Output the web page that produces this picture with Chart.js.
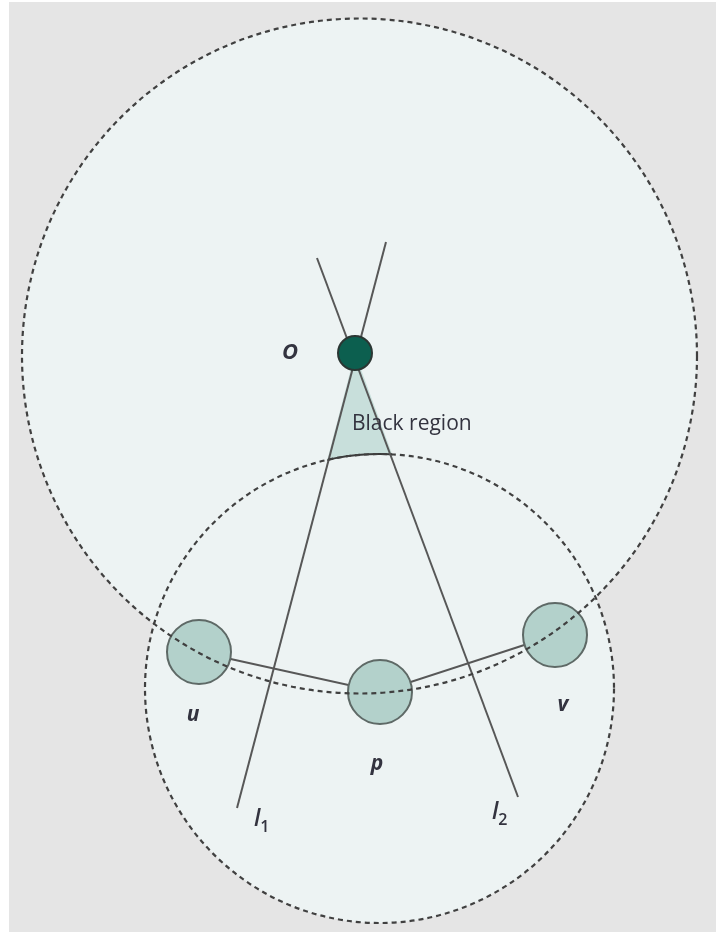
<!DOCTYPE html>
<html>
<head>
<meta charset="utf-8">
<script src="https://cdn.jsdelivr.net/npm/chart.js@4.4.1/dist/chart.umd.min.js"></script>
<style>
  html, body { margin: 0; padding: 0; background: #ffffff; }
  #grafico { display: block; }
</style>
</head>
<body>
<canvas id="grafico" width="716" height="932"></canvas>
<script>
// Pontos do diagrama (coordenadas no plano do desenho)
const nodeNames = ['u', 'p', 'v'];
const nodeX = [199, 380, 555];
const nodeY = [652, 692, 635];

const originName = 'O';
const originX = 355;
const originY = 353;

// Retas l1 e l2 (ponta de cima -> ponta de baixo)
const lineNames = ['l1', 'l2'];
const lineTopX = [386, 317];
const lineTopY = [242, 258];
const lineBottomX = [237, 518];
const lineBottomY = [808, 797];

// Círculos tracejados (centro e raio)
const circleX = [359.5, 379.5];
const circleY = [356, 688.5];
const circleR = [337.5, 234.5];

// Rótulos
const labelTexts = ['O', 'u', 'p', 'v', 'l', 'l', 'Black region'];
const labelSubs = ['', '', '', '', '1', '2', ''];
const labelX = [290, 193, 377, 563, 260, 498, 352];
const labelY = [353, 715, 764, 705, 822, 815, 424];

const corLinha = '#575757';

const fundoPlugin = {
    id: 'fundo',
    beforeDraw(chart) {
        const ctx = chart.ctx;
        ctx.save();
        ctx.fillStyle = '#ffffff';
        ctx.fillRect(0, 0, chart.width, chart.height);
        ctx.fillStyle = '#e5e5e5';
        ctx.fillRect(9, 2, chart.width - 9, chart.height - 2);
        ctx.restore();
    },
    beforeDatasetsDraw(chart) {
        const ctx = chart.ctx;
        const sx = chart.scales.x, sy = chart.scales.y;
        const px = v => sx.getPixelForValue(v);
        const py = v => sy.getPixelForValue(v);
        const pr = r => Math.abs(sx.getPixelForValue(r) - sx.getPixelForValue(0));
        ctx.save();
        // preenchimento dos dois círculos
        ctx.fillStyle = '#edf3f3';
        for (let i = 0; i < circleX.length; i++) {
            ctx.beginPath();
            ctx.arc(px(circleX[i]), py(circleY[i]), pr(circleR[i]), 0, Math.PI * 2);
            ctx.fill();
        }
        // região entre as retas, de O até o círculo menor
        ctx.beginPath();
        ctx.moveTo(px(originX), py(originY));
        ctx.lineTo(px(lineBottomX[0]), py(lineBottomY[0]));
        ctx.lineTo(px(lineBottomX[1]), py(lineBottomY[1]));
        ctx.closePath();
        ctx.clip();
        ctx.beginPath();
        ctx.rect(0, 0, chart.width, chart.height);
        ctx.arc(px(circleX[1]), py(circleY[1]), pr(circleR[1]), 0, Math.PI * 2);
        ctx.fillStyle = '#c8dfdb';
        ctx.fill('evenodd');
        ctx.beginPath();
        ctx.arc(px(circleX[1]), py(circleY[1]), pr(circleR[1]), 0, Math.PI * 2);
        ctx.strokeStyle = '#3a3a3a';
        ctx.lineWidth = 2;
        ctx.stroke();
        ctx.restore();
    },
    afterDatasetsDraw(chart) {
        const ctx = chart.ctx;
        const sx = chart.scales.x, sy = chart.scales.y;
        const px = v => sx.getPixelForValue(v);
        const py = v => sy.getPixelForValue(v);
        const pr = r => Math.abs(sx.getPixelForValue(r) - sx.getPixelForValue(0));
        ctx.save();
        // contornos tracejados
        ctx.setLineDash([5, 4]);
        ctx.strokeStyle = '#404040';
        ctx.lineWidth = 2.2;
        for (let i = 0; i < circleX.length; i++) {
            ctx.beginPath();
            ctx.arc(px(circleX[i]), py(circleY[i]), pr(circleR[i]), 0, Math.PI * 2);
            ctx.stroke();
        }
        ctx.setLineDash([]);
        // textos
        ctx.fillStyle = '#33333f';
        ctx.textBaseline = 'middle';
        for (let i = 0; i < labelTexts.length; i++) {
            const x = px(labelX[i]), y = py(labelY[i]);
            if (labelTexts[i] === 'Black region') {
                ctx.font = '21px "Open Sans"';
                ctx.textAlign = 'left';
                ctx.fillText(labelTexts[i], x, y);
            } else if (labelSubs[i]) {
                ctx.font = 'italic 600 23px "Open Sans"';
                ctx.textAlign = 'left';
                ctx.fillText(labelTexts[i], x - 6, y - 3);
                const w = ctx.measureText(labelTexts[i]).width;
                ctx.font = '600 16px "Open Sans"';
                ctx.fillText(labelSubs[i], x - 6 + w, y + 5);
            } else {
                ctx.font = 'italic 700 ' + (labelTexts[i] === 'O' ? 22 : 21) + 'px "Open Sans"';
                ctx.textAlign = 'center';
                ctx.fillText(labelTexts[i], x, y);
            }
        }
        ctx.restore();
    }
};

const datasets = [
    {
        label: originName,
        data: [{ x: originX, y: originY }],
        pointRadius: 17,
        pointBackgroundColor: '#0c5f4f',
        pointBorderColor: '#2b3633',
        pointBorderWidth: 2,
        showLine: false,
        order: 0
    },
    {
        label: 'nós',
        data: nodeNames.map((n, i) => ({ x: nodeX[i], y: nodeY[i] })),
        pointRadius: 32,
        pointBackgroundColor: '#b3d1cb',
        pointBorderColor: '#5e6966',
        pointBorderWidth: 2,
        showLine: false,
        order: 1
    },
    {
        label: 'caminho',
        data: nodeNames.map((n, i) => ({ x: nodeX[i], y: nodeY[i] })),
        showLine: true,
        borderColor: corLinha,
        borderWidth: 2,
        pointRadius: 0,
        order: 2
    }
];

lineNames.forEach((nome, i) => {
    datasets.push({
        label: nome,
        data: [{ x: lineTopX[i], y: lineTopY[i] }, { x: lineBottomX[i], y: lineBottomY[i] }],
        showLine: true,
        borderColor: corLinha,
        borderWidth: 2,
        pointRadius: 0,
        order: 3
    });
});

const ctx = document.getElementById('grafico').getContext('2d');
const grafico = new Chart(ctx, {
    type: 'scatter',
    data: { datasets: datasets },
    options: {
        responsive: false,
        animation: false,
        devicePixelRatio: 1,
        layout: { padding: 0, autoPadding: false },
        plugins: { legend: { display: false }, tooltip: { enabled: false } },
        scales: {
            x: { type: 'linear', min: 0, max: 716, display: false },
            y: { type: 'linear', min: 0, max: 932, reverse: true, display: false }
        }
    },
    plugins: [fundoPlugin]
});
</script>
</body>
</html>
